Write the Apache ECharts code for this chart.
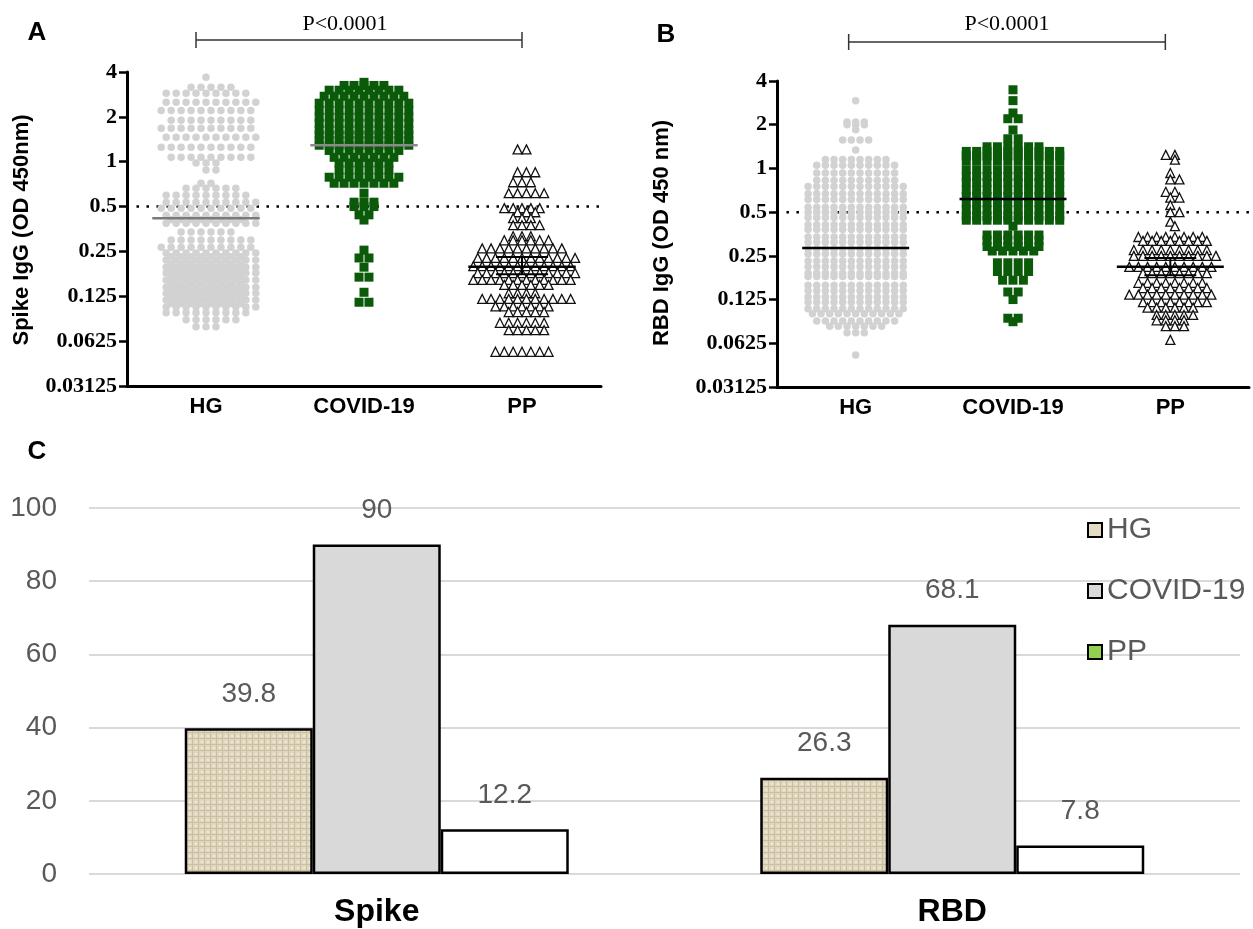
<!DOCTYPE html>
<html><head><meta charset="utf-8">
<script src="https://cdn.jsdelivr.net/npm/echarts@6/dist/echarts.min.js"></script>
<style>html,body{margin:0;padding:0;background:#fff}#c{width:1253px;height:929px}</style>
</head><body><div id="c"></div>
<script>
// ---------- DATA ----------
const groups = ['HG', 'COVID-19', 'PP'];
const yTicks = [0.03125, 0.0625, 0.125, 0.25, 0.5, 1, 2, 4];
const cutoff = 0.5;

// Each row: [OD value, number of points at that level]
const spikeHG = [[3.69,1],[3.16,5],[2.88,9],[2.51,10],[2.21,10],[1.90,9],[1.68,10],[1.46,10],[1.25,10],[1.07,9],[0.98,3],[0.88,2],
  [0.717,2],[0.664,6],[0.596,9],[0.535,10],[0.488,10],[0.438,10],[0.41,8],[0.387,10],[0.337,6],[0.298,9],[0.267,10],[0.244,10],
  [0.23,8],[0.219,10],[0.206,8],[0.196,10],[0.187,8],[0.179,10],[0.17,8],[0.161,10],[0.152,8],[0.144,10],[0.137,8],[0.131,10],
  [0.124,8],[0.118,10],[0.112,8],[0.106,10],[0.097,9],[0.087,6],[0.078,3]];
const spikeCOVID = [[3.41,1],[3.25,5],[3.02,8],[2.75,9],[2.47,10],[2.21,10],[1.99,10],[1.81,10],[1.63,10],[1.51,10],[1.39,10],
  [1.29,10],[1.19,8],[1.07,7],[0.98,6],[0.88,6],[0.787,8],[0.717,7],[0.615,1],[0.535,3],[0.50,3],[0.44,2],[0.406,1],
  [0.255,1],[0.226,2],[0.196,1],[0.168,2],[0.133,1],[0.114,2]];
const spikePP = [[1.21,2],[0.85,3],[0.728,3],[0.615,5],[0.488,5],[0.458,3],[0.418,3],[0.375,4],[0.316,3],[0.297,6],[0.262,10],
  [0.226,12],[0.199,12],[0.179,12],[0.161,12],[0.149,6],[0.131,4],[0.12,11],[0.107,7],[0.098,5],[0.083,6],[0.074,5],[0.053,7]];

const rbdHG = [[2.92,1],[2.09,3],[2.0,3],[1.85,1],[1.57,4],[1.34,1],[1.15,8],[1.05,10],[0.93,10],[0.83,10],[0.75,12],[0.67,12],
  [0.61,12],[0.54,12],[0.50,12],[0.46,12],[0.41,12],[0.38,12],[0.337,12],[0.31,12],[0.28,12],[0.257,12],[0.23,12],[0.21,12],
  [0.19,12],[0.18,12],[0.157,12],[0.144,12],[0.13,12],[0.12,12],[0.108,12],[0.10,11],[0.089,10],[0.082,7],[0.074,3],[0.052,1]];
const rbdCOVID = [[3.48,1],[2.93,1],[2.41,1],[2.2,2],[1.84,1],[1.6,2],[1.41,6],[1.31,10],[1.22,10],[1.13,10],[0.98,10],[0.88,10],
  [0.80,10],[0.71,10],[0.64,10],[0.58,10],[0.518,10],[0.47,10],[0.44,10],[0.40,1],[0.348,6],[0.32,6],[0.29,6],[0.27,5],
  [0.224,4],[0.195,4],[0.17,3],[0.141,2],[0.125,1],[0.093,2],[0.088,1]];
const rbdPP = [[1.24,2],[1.15,1],[0.93,1],[0.84,2],[0.69,2],[0.63,2],[0.56,1],[0.50,2],[0.43,1],[0.40,1],[0.337,8],[0.317,8],
  [0.274,9],[0.25,10],[0.21,10],[0.19,8],[0.163,8],[0.15,8],[0.135,10],[0.12,8],[0.11,6],[0.098,5],[0.09,4],[0.082,3],[0.066,1]];

const spikeMedian = [0.418, 1.29, 0.197];
const spikePPci = [0.176, 0.229];
const rbdMedian = [0.283, 0.616, 0.21];
const rbdPPci = [0.184, 0.242];

const barCats = ['Spike', 'RBD'];
const pctHG = [39.8, 26.3];
const pctCOVID = [90, 68.1];
const pctPP = [12.2, 7.8];

// ---------- CHART ----------
const SANS = '"Liberation Sans", Arial, sans-serif';
const SERIF = '"Liberation Serif", "Times New Roman", serif';
const chart = echarts.init(document.getElementById('c'), null, {renderer: 'canvas'});

// beeswarm layout: spread the points of one level around the group centre
function swarm(rows, center, step, stagger) {
  const out = [];
  rows.forEach((r, k) => { const v = r[0], n = r[1];
    const shift = stagger && (k % 2) ? step / 2 : 0;
    for (let i = 0; i < n; i++) out.push([center + shift + (i - (n - 1) / 2) * step, v]); });
  return out;
}
function texture() {
  const c = document.createElement('canvas'); c.width = 6; c.height = 6;
  const g = c.getContext('2d');
  g.fillStyle = '#e0d7c0'; g.fillRect(0, 0, 6, 6);
  g.fillStyle = '#cbbf9f'; g.fillRect(0, 0, 6, 1); g.fillRect(0, 0, 1, 6);
  g.fillStyle = '#efe9da'; g.fillRect(3, 3, 2, 2);
  return c;
}
function catAxis(gi) {
  return {type: 'category', gridIndex: gi, data: groups, boundaryGap: true,
    axisLine: {onZero: false, lineStyle: {color: '#000', width: 3}},
    axisTick: {alignWithLabel: true, length: 8, lineStyle: {width: 2.5, color: '#000'}},
    axisLabel: {fontSize: 22, fontWeight: 'bold', color: '#000', fontFamily: SANS, margin: 10},
    splitLine: {show: false}};
}
function valX(gi) { return {type: 'value', gridIndex: gi, min: -0.5, max: 2.5, show: false}; }
function logY(gi) {
  return {type: 'log', logBase: 2, gridIndex: gi, min: yTicks[0], max: yTicks[yTicks.length - 1],
    axisLine: {show: true, onZero: false, lineStyle: {color: '#000', width: 3}},
    axisTick: {show: true, length: 8, lineStyle: {width: 2.5, color: '#000'}},
    axisLabel: {fontSize: 22, fontWeight: 'bold', fontFamily: SERIF, color: '#000', margin: 10,
      formatter: v => String(parseFloat(Number(v).toPrecision(5)))},
    splitLine: {show: false}, minorTick: {show: false}, minorSplitLine: {show: false}};
}
function hline(xi, yi, x0, x1, y, color, w, z) {
  return {type: 'line', xAxisIndex: xi, yAxisIndex: yi, data: [[x0, y], [x1, y]], symbol: 'none', silent: true,
    lineStyle: {color: color, width: w}, z: z || 5, animation: false};
}
function vline(xi, yi, x, y0, y1) {
  return {type: 'line', xAxisIndex: xi, yAxisIndex: yi, data: [[x, y0], [x, y1]], symbol: 'none', silent: true,
    lineStyle: {color: '#000', width: 2}, z: 5, animation: false};
}
function dotScatter(name, xi, yi, rows, center, step, kind, stagger, size) {
  const s = {type: 'scatter', name: name, xAxisIndex: xi, yAxisIndex: yi, data: swarm(rows, center, step, stagger),
    silent: true, animation: false, z: 2};
  if (kind === 'dot') { s.symbol = 'circle'; s.symbolSize = size; s.itemStyle = {color: '#d2d2d2', opacity: 1}; }
  if (kind === 'sq') { s.symbol = 'rect'; s.symbolSize = size; s.itemStyle = {color: '#0a5a0a', opacity: 1}; }
  if (kind === 'tri') { s.symbol = 'triangle'; s.symbolSize = size;
    s.itemStyle = {color: '#fff', borderColor: '#111', borderWidth: 1.3, opacity: 1}; }
  return s;
}
function panelSeries(xi, yi, hg, cov, pp, med, ci, steps, sizes, hgStagger, hgMedColor, covMedColor) {
  const mh = 0.34, eh = 0.165;
  return [
    dotScatter('hg' + xi, xi, yi, hg, 0, steps[0], 'dot', hgStagger, sizes[0]),
    dotScatter('cov' + xi, xi, yi, cov, 1, steps[1], 'sq', false, sizes[1]),
    dotScatter('pp' + xi, xi, yi, pp, 2, steps[2], 'tri', true, sizes[2]),
    {type: 'line', xAxisIndex: xi, yAxisIndex: yi, data: [[-0.44, cutoff], [2.5, cutoff]], symbol: 'none', silent: true,
      lineStyle: {type: [2.5, 7.5], width: 2.5, color: '#000'}, z: 1, animation: false},
    hline(xi, yi, -mh, mh, med[0], hgMedColor, 2.5),
    hline(xi, yi, 1 - mh, 1 + mh, med[1], covMedColor, 2.5),
    hline(xi, yi, 2 - mh, 2 + mh, med[2], '#000', 2.5),
    hline(xi, yi, 2 - eh, 2 + eh, ci[0], '#000', 2),
    hline(xi, yi, 2 - eh, 2 + eh, ci[1], '#000', 2),
    vline(xi, yi, 2, ci[0], ci[1])
  ];
}

const tex = {image: texture(), repeat: 'repeat'};
const barLabel = {show: true, position: 'top', distance: 20, fontSize: 28, color: '#595959', fontFamily: SANS};
const barBorder = {borderColor: '#000', borderWidth: 2.5};

const option = {
  animation: false,
  backgroundColor: '#fff',
  grid: [
    {left: 127, top: 72, width: 474, height: 314},
    {left: 777, top: 81, width: 472, height: 306},
    {left: 89, top: 508, width: 1151, height: 366}
  ],
  xAxis: [catAxis(0), valX(0), catAxis(1), valX(1),
    {type: 'category', gridIndex: 2, data: barCats, axisLine: {show: false}, axisTick: {show: false},
      axisLabel: {fontSize: 32, fontWeight: 'bold', color: '#000', margin: 22, fontFamily: SANS}}],
  yAxis: [logY(0), logY(1),
    {type: 'value', gridIndex: 2, min: 0, max: 100, interval: 20, axisLine: {show: false}, axisTick: {show: false},
      axisLabel: {fontSize: 28, color: '#595959', margin: 32, fontFamily: SANS},
      splitLine: {lineStyle: {color: '#d9d9d9', width: 2}}}],
  legend: {orient: 'vertical', left: 1082, top: 510, itemWidth: 14, itemHeight: 14, itemGap: 31, icon: 'rect',
    selectedMode: false,
    textStyle: {fontSize: 30, color: '#595959', fontFamily: SANS, lineHeight: 30},
    itemStyle: {borderColor: '#000', borderWidth: 2},
    data: [{name: 'HG', itemStyle: {color: '#e4dbc5'}}, {name: 'COVID-19', itemStyle: {color: '#d9d9d9'}},
      {name: 'PP', itemStyle: {color: '#92d050'}}]},
  series: [].concat(
    panelSeries(1, 0, spikeHG, spikeCOVID, spikePP, spikeMedian, spikePPci, [0.063, 0.063, 0.056], [7.5, 9, 9], true, '#7a7a7a', '#8a8a8a'),
    panelSeries(3, 1, rbdHG, rbdCOVID, rbdPP, rbdMedian, rbdPPci, [0.055, 0.066, 0.058], [7.5, 9, 9], false, '#000', '#000'),
    [
      {type: 'bar', name: 'HG', xAxisIndex: 4, yAxisIndex: 2, data: pctHG, barWidth: 128, barGap: '0%',
        itemStyle: Object.assign({color: tex}, barBorder), label: barLabel},
      {type: 'bar', name: 'COVID-19', xAxisIndex: 4, yAxisIndex: 2, data: pctCOVID, barWidth: 128, barGap: '0%',
        itemStyle: Object.assign({color: '#d9d9d9'}, barBorder), label: barLabel},
      {type: 'bar', name: 'PP', xAxisIndex: 4, yAxisIndex: 2, data: pctPP, barWidth: 128, barGap: '0%',
        itemStyle: Object.assign({color: '#fff'}, barBorder), label: barLabel}
    ])
};
chart.setOption(option);

// annotations (panel letters, titles, significance brackets)
const ax0 = chart.convertToPixel({xAxisIndex: 1}, 0) - 10, ax2 = chart.convertToPixel({xAxisIndex: 1}, 2);
const bx0 = chart.convertToPixel({xAxisIndex: 3}, 0) - 7, bx2 = chart.convertToPixel({xAxisIndex: 3}, 2) - 5;
function txt(t, x, y, font, rot) {
  return {type: 'text', x: x, y: y, rotation: rot || 0, z: 10,
    style: {text: t, font: font, fill: '#000', align: 'center', verticalAlign: 'middle'}};
}
function seg(x1, y1, x2, y2) {
  return {type: 'line', z: 10, shape: {x1: x1, y1: y1, x2: x2, y2: y2}, style: {stroke: '#333', lineWidth: 1.5}};
}
chart.setOption({graphic: [
  txt('A', 37, 33, 'bold 26px ' + SANS),
  txt('B', 666, 35, 'bold 26px ' + SANS),
  txt('C', 37, 452, 'bold 26px ' + SANS),
  txt('Spike IgG (OD 450nm)', 22, 230, 'bold 22px ' + SANS, Math.PI / 2),
  txt('RBD IgG (OD 450 nm)', 662, 233, 'bold 22px ' + SANS, Math.PI / 2),
  txt('P<0.0001', (ax0 + ax2) / 2 - 14, 24, '22px ' + SERIF),
  txt('P<0.0001', (bx0 + bx2) / 2, 24, '22px ' + SERIF),
  seg(ax0, 40, ax2, 40), seg(ax0, 32, ax0, 48), seg(ax2, 32, ax2, 48),
  seg(bx0, 42, bx2, 42), seg(bx0, 34, bx0, 50), seg(bx2, 34, bx2, 50)
]});
</script>
</body></html>
